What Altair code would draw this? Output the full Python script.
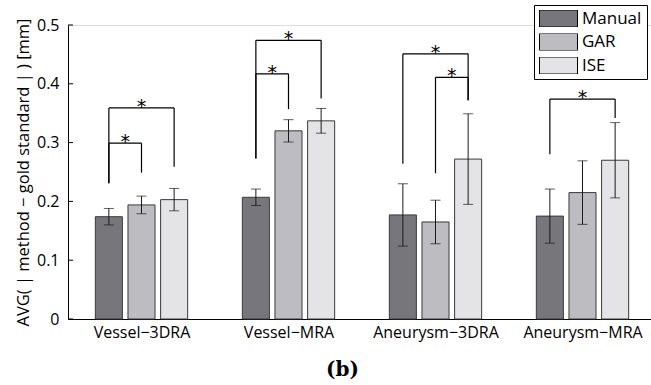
import altair as alt
import pandas as pd

# ---- data ----
groups = ["Vessel−3DRA", "Vessel−MRA", "Aneurysm−3DRA", "Aneurysm−MRA"]
methods = ["Manual", "GAR", "ISE"]
colors = ["#77777b", "#bdbdc1", "#e4e4e6"]

manual_mean = [0.174, 0.207, 0.177, 0.175]
manual_sd = [0.014, 0.014, 0.053, 0.046]
gar_mean = [0.194, 0.320, 0.165, 0.215]
gar_sd = [0.015, 0.019, 0.037, 0.054]
ise_mean = [0.203, 0.337, 0.272, 0.270]
ise_sd = [0.019, 0.021, 0.077, 0.064]

y_ticks = [0, 0.1, 0.2, 0.3, 0.4, 0.5]

# significance brackets
br_group = [0, 0, 1, 1, 2, 2, 3]
br_from = ["Manual", "Manual", "Manual", "Manual", "Manual", "GAR", "Manual"]
br_to = ["GAR", "ISE", "GAR", "ISE", "ISE", "ISE", "ISE"]
br_top = [0.299, 0.359, 0.417, 0.474, 0.451, 0.411, 0.374]
br_left_end = [0.231, 0.231, 0.273, 0.273, 0.264, 0.248, 0.280]
br_right_end = [0.249, 0.259, 0.357, 0.375, 0.372, 0.372, 0.342]

# ---- layout helpers ----
offset = {"Manual": -0.222, "GAR": 0.0, "ISE": 0.222}
half_w = 0.092
FONT = "Open Sans"

means = {"Manual": manual_mean, "GAR": gar_mean, "ISE": ise_mean}
sds = {"Manual": manual_sd, "GAR": gar_sd, "ISE": ise_sd}

rows = []
for gi, g in enumerate(groups):
    for m in methods:
        xc = gi + 1 + offset[m]
        mu = means[m][gi]
        sd = sds[m][gi]
        rows.append(dict(group=g, method=m, xc=xc, xl=xc - half_w, xr=xc + half_w,
                         mean=mu, lo=mu - sd, hi=mu + sd))
bars = pd.DataFrame(rows)

seg_rows, star_rows = [], []
for g, a, b, top, le, re in zip(br_group, br_from, br_to, br_top, br_left_end, br_right_end):
    xa = g + 1 + offset[a]
    xb = g + 1 + offset[b]
    seg_rows.append(dict(x=xa, x2=xb, y=top, y2=top))
    seg_rows.append(dict(x=xa, x2=xa, y=le, y2=top))
    seg_rows.append(dict(x=xb, x2=xb, y=re, y2=top))
    star_rows.append(dict(x=(xa + xb) / 2, y=top, t="*"))
segs = pd.DataFrame(seg_rows)
stars = pd.DataFrame(star_rows)
ticks_df = pd.DataFrame({"v": y_ticks})

W, H = 583, 294
xscale = alt.Scale(domain=[0.5, 0.5 + W / 147.0], nice=False, zero=False)
yscale = alt.Scale(domain=[0, 0.5], nice=False)

label_expr = "[" + ",".join("'" + g + "'" for g in groups) + "][datum.value - 1]"
xaxis = alt.Axis(values=[1, 2, 3, 4], labelExpr=label_expr, title=None, ticks=False,
                 tickSize=0, grid=False, domainColor="black", domainWidth=1,
                 labelFont=FONT, labelFontSize=16, labelColor="black", labelPadding=5)
yaxis = alt.Axis(values=y_ticks, format=".1~f", title="AVG( | method − gold standard | ) [mm]",
                 ticks=False, tickSize=0, grid=False, domainColor="black", domainWidth=1,
                 labelFont=FONT, labelFontSize=16, labelColor="black", labelPadding=9,
                 titleFont=FONT, titleFontSize=16.5, titleFontWeight="normal",
                 titleColor="black", titlePadding=5)


def X(f):
    return alt.X(f, type="quantitative", scale=xscale, axis=xaxis)


def Y(f):
    return alt.Y(f, type="quantitative", scale=yscale, axis=yaxis)


bar_layer = alt.Chart(bars).mark_bar(stroke="#3a3a3a", strokeWidth=1, opacity=1).encode(
    x=X("xl"), x2="xr", y=Y("mean"), y2=alt.datum(0),
    fill=alt.Fill("method:N", scale=alt.Scale(domain=methods, range=colors),
                  legend=alt.Legend(title=None, orient="none", legendX=466, legendY=-20,
                                    symbolType="M-1,-0.447L1,-0.447L1,0.447L-1,0.447Z",
                                    symbolSize=1444, symbolStrokeColor="black",
                                    symbolStrokeWidth=1, symbolOpacity=1, clipHeight=17,
                                    rowPadding=5.5, labelFont=FONT, labelFontSize=17,
                                    labelColor="black", labelOffset=4,
                                    strokeColor="black", fillColor="white", padding=5)),
)

err_layer = alt.Chart(bars).mark_rule(color="#1a1a1a", strokeWidth=1).encode(
    x=X("xc"), y=Y("lo"), y2="hi")
cap_lo = alt.Chart(bars).mark_tick(color="#1a1a1a", orient="horizontal", size=10, thickness=1).encode(
    x=X("xc"), y=Y("lo"))
cap_hi = alt.Chart(bars).mark_tick(color="#1a1a1a", orient="horizontal", size=10, thickness=1).encode(
    x=X("xc"), y=Y("hi"))

seg_layer = alt.Chart(segs).mark_rule(color="black", strokeWidth=1.2).encode(
    x=X("x"), x2="x2", y=Y("y"), y2="y2")
star_layer = alt.Chart(stars).mark_text(font="DejaVu Sans", fontSize=19, baseline="alphabetic",
                                        dy=5, color="black").encode(
    x=X("x"), y=Y("y"), text="t:N")

tick_layer = alt.Chart(ticks_df).mark_rule(color="black", strokeWidth=1).encode(
    x=alt.value(0), x2=alt.value(5), y=Y("v"))

chart = alt.layer(bar_layer, err_layer, cap_lo, cap_hi, seg_layer, star_layer, tick_layer).properties(
    width=W, height=H,
    title=alt.TitleParams("(b)", orient="bottom", anchor="middle", font="DejaVu Serif",
                          fontWeight="bold", fontSize=20, color="black", dx=-17, offset=20),
    autosize=alt.AutoSizeParams(type="none"),
    padding={"left": 68, "top": 25, "right": 0, "bottom": 66},
).configure_view(stroke=None).configure(background="white")

chart.save("out.html", embed_options={"renderer": "svg", "actions": False})
